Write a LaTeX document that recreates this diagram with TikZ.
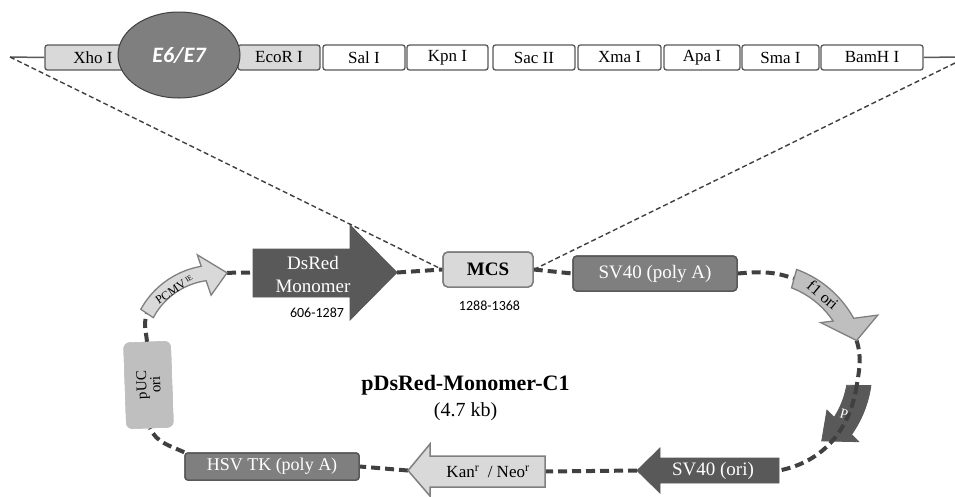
\documentclass[tikz,border=0pt]{standalone}
\usepackage{fontspec}
\setmainfont{Liberation Serif}
\newfontfamily\calibri{Carlito}
\usetikzlibrary{shapes.geometric}
\definecolor{cA}{HTML}{404040}
\definecolor{cB}{HTML}{595959}
\definecolor{cC}{HTML}{7F7F7F}
\definecolor{cD}{HTML}{D9D9D9}
\definecolor{cE}{HTML}{BFBFBF}
\begin{document}
\begin{tikzpicture}[x=1pt,y=-1pt,
  site/.style={draw=cB, line width=1.3pt, rounded corners=2.5pt, fill=white, minimum height=25pt, inner sep=0pt, font=\fontsize{17}{17}\selectfont},
  greysite/.style={site, fill=cD},
  bb/.style={draw=cA, line width=4pt, dash pattern=on 9pt off 5pt},
  tdash/.style={draw=cA, line width=1.4pt, dash pattern=on 5pt off 3pt},
  solidline/.style={draw=cB, line width=1.5pt},
  darkbox/.style={fill=cC, draw=cB, line width=1.5pt, rounded corners=4pt, inner sep=0pt, text=white},
  numlabel/.style={font=\calibri\fontsize{14}{14}\selectfont, inner sep=0pt},
  big/.style={font=\fontsize{19}{19}\selectfont}
]
\useasboundingbox (0,0) rectangle (955,496);

% ---------------- top MCS bar ----------------
\coordinate (lend) at (10,57);
\coordinate (rend) at (955,57);
\coordinate (rdash) at (955,63);
\node[greysite, minimum width=96pt] (xho) at (93,57.5) {Xho I};
\node[greysite, minimum width=82pt] (ecor) at (279,57.5) {EcoR I};
\node[site, minimum width=82pt] (sal) at (364,57.5) {Sal I};
\node[site, minimum width=81pt] (kpn) at (447.5,57.5) {Kpn I};
\node[site, minimum width=82pt] (sac) at (534,57.5) {Sac II};
\node[site, minimum width=83pt] (xma) at (619.5,57.5) {Xma I};
\node[site, minimum width=76pt] (apa) at (702,57.5) {Apa I};
\node[site, minimum width=77pt] (sma) at (780.5,57.5) {Sma I};
\node[site, minimum width=102pt] (bamh) at (872,57.5) {BamH I};
\node[ellipse, fill=cC, draw=cA, line width=1pt, minimum width=122pt, minimum height=86pt, inner sep=0pt,
      text=white, font=\calibri\bfseries\itshape\fontsize{22}{22}\selectfont] (e67) at (179,55) {E6/E7};
\draw[solidline] (lend) -- (xho.west);
\draw[solidline] (bamh.east) -- (rend);

% ---------------- plasmid loop ----------------
% P arrow (drawn below the backbone)
\filldraw[fill=cB, draw=cB, line width=0.8pt]
  plot[domain=8:35.2, samples=25, variable=\t] ({760+112*cos(\t)},{370+112*sin(\t)})
  -- (858.7,441.7) -- (821.7,440.9) -- (826.9,410.2)
  -- plot[domain=32.6:10, samples=25, variable=\t] ({760+88*cos(\t)},{370+88*sin(\t)}) -- cycle;

\coordinate (pcmvTip) at (227,272.8);
\coordinate (pcmvTail) at (147,313.5);
\coordinate (dsTail) at (253,272.5);
\coordinate (dsTip) at (397,272.5);
\coordinate (f1Tail) at (794.2,278.7);
\coordinate (f1Tip) at (856.6,340.5);
\coordinate (pTail) at (856.8,385.3);
\coordinate (svoTip) at (637,470.5);
\coordinate (svoTail) at (779,470.5);
\coordinate (kanTip) at (408,470.5);
\coordinate (kanTail) at (545,471.5);

\node[fill=cC, draw=cB, line width=1.5pt, rounded corners=4pt, inner sep=0pt, text=white, minimum width=164pt, minimum height=35pt, big] (sv40pa) at (655,273.5) {SV40 (poly A)};
\node[fill=cC, draw=cB, line width=1.5pt, rounded corners=3pt, inner sep=0pt, text=white, minimum width=174pt, minimum height=27pt, font=\fontsize{18}{18}\selectfont] (hsv) at (272,466.5) {HSV TK (poly A)};
\node[fill=cD, draw=cC, line width=1.5pt, rounded corners=5pt, inner sep=0pt, minimum width=90pt, minimum height=35pt, font=\bfseries\fontsize{19}{19}\selectfont] (mcs) at (488,269.5) {MCS};
\node[fill=cE, draw=cE, rounded corners=6pt, rotate=92, minimum width=86pt, minimum height=47pt, inner sep=0pt, align=center, font=\fontsize{15}{14}\selectfont] (puc) at (148.5,385) {pUC\\ori};

% backbone segments
\draw[bb] (pcmvTip) -- (dsTail);
\draw[bb] (dsTip) -- (mcs.west);
\draw[bb] (mcs.east) -- (sv40pa.west);
\draw[bb] (sv40pa.east) to[out=5, in=160] (f1Tail);
\draw[bb] (f1Tip) to[out=-73, in=81] (pTail);
\draw[bb] (pTail) to[out=-99, in=11] (svoTail);
\draw[bb] (svoTip) -- (kanTail);
\draw[bb] (kanTip) -- (hsv.east);
\draw[bb] (hsv.north west) to[out=155, in=-65] (puc.west);
\draw[bb] (puc.east) to[out=95, in=-110] (pcmvTail);

% redraw boxes on top of backbone ends
\node[fill=cC, draw=cB, line width=1.5pt, rounded corners=4pt, inner sep=0pt, text=white, minimum width=164pt, minimum height=35pt, big] at (sv40pa) {SV40 (poly A)};
\node[fill=cC, draw=cB, line width=1.5pt, rounded corners=3pt, inner sep=0pt, text=white, minimum width=174pt, minimum height=27pt, font=\fontsize{18}{18}\selectfont] at (hsv) {HSV TK (poly A)};
\node[fill=cD, draw=cC, line width=1.5pt, rounded corners=5pt, inner sep=0pt, minimum width=90pt, minimum height=35pt, font=\bfseries\fontsize{19}{19}\selectfont] at (mcs) {MCS};
\node[fill=cE, draw=cE, rounded corners=6pt, rotate=92, minimum width=86pt, minimum height=47pt, inner sep=0pt, align=center, font=\fontsize{15}{14}\selectfont] at (puc) {pUC\\ori};

% PCMV IE arrow
\filldraw[fill=cD, draw=cC, line width=1.3pt]
  plot[domain=-151:-99.9, samples=25, variable=\t] ({216+86*cos(\t)},{351+86*sin(\t)})
  -- (197.3,254.8) -- (pcmvTip) -- (211.1,295.2)
  -- plot[domain=-98:-152, samples=25, variable=\t] ({216+71*cos(\t)},{351+71*sin(\t)}) -- cycle;
\node[rotate=34, inner sep=0pt, font=\fontsize{12}{12}\selectfont] (pcmv) at (174.6,289.7) {PCMV\,\raisebox{2.5pt}{\fontsize{7.5}{7.5}\selectfont IE}};

% DsRed Monomer arrow
\filldraw[fill=cB, draw=cB, line width=0.8pt] (dsTail |- 0,249) -- (350,249) -- (350,225) -- (dsTip) -- (350,320) -- (350,297) -- (dsTail |- 0,297) -- cycle;
\node[anchor=base, text=white, inner sep=0pt, big] (ds1) at (313,269) {DsRed};
\node[anchor=base, text=white, inner sep=0pt, big] (ds2) at (313,292) {Monomer};
\node[numlabel] (dsnum) at (317,313) {606-1287};
\node[numlabel] (mcsnum) at (489.5,306) {1288-1368};

% f1 ori arrow
\filldraw[fill=cE, draw=cC, line width=1.3pt]
  plot[domain=-70:-28.9, samples=25, variable=\t] ({760+107*cos(\t)},{370+107*sin(\t)})
  -- (877.8,315.1) -- (f1Tip) -- (820.7,322.6)
  -- plot[domain=-33.8:-69, samples=25, variable=\t] ({760+88*cos(\t)},{370+88*sin(\t)}) -- cycle;
\node[rotate=-40, inner sep=0pt, font=\fontsize{16}{16}\selectfont] (f1) at (823,295) {f1 ori};

% P label
\node[rotate=-15, inner sep=0pt, text=white, font=\fontsize{14}{14}\selectfont] (plab) at (844,414) {P};

% SV40 ori arrow
\filldraw[fill=cB, draw=cB, line width=0.8pt] (svoTail |- 0,458) -- (660,458) -- (660,448) -- (svoTip) -- (660,493) -- (660,483) -- (svoTail |- 0,483) -- cycle;
\node[text=white, inner sep=0pt, big] (svo) at (713,470.5) {SV40 (ori)};

% Kan / Neo arrow
\filldraw[fill=cD, draw=cC, line width=1.5pt] (kanTail |- 0,456) -- (430,456) -- (430,444) -- (kanTip) -- (430,496) -- (430,487) -- (kanTail |- 0,487) -- cycle;
\node[inner sep=0pt, font=\fontsize{17}{17}\selectfont] (kan) at (488,471.5) {Kan\textsuperscript{r}\ \ / Neo\textsuperscript{r}};

% title
\node[anchor=base, inner sep=0pt, font=\bfseries\fontsize{22}{22}\selectfont] (title) at (465.5,390.5) {pDsRed-Monomer-C1};
\node[anchor=base, inner sep=0pt, font=\fontsize{20}{20}\selectfont] (size) at (465.5,416) {(4.7 kb)};

% zoom lines to the MCS
\draw[tdash] (lend) -- (mcs.west);
\draw[tdash] (rdash) -- (mcs.east);
\end{tikzpicture}
\end{document}
